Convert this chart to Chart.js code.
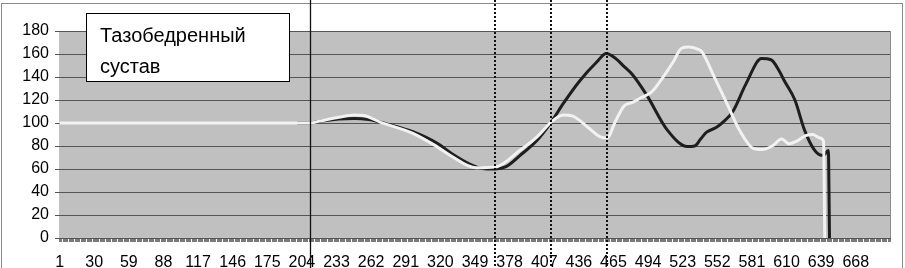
<!DOCTYPE html>
<html><head><meta charset="utf-8">
<script src="https://cdn.jsdelivr.net/npm/chart.js@4.4.1/dist/chart.umd.min.js"></script>
<style>html,body{margin:0;padding:0;background:#fff;}#wrap{width:905px;height:268px;position:relative;}</style>
</head><body><div id="wrap"><canvas id="c" width="905" height="268"></canvas></div>
<script>
// ---- data ----
const tickLabels = [1,30,59,88,117,146,175,204,233,262,291,320,349,378,407,436,465,494,523,552,581,610,639,668];
const categoryCount = 697;
const yMin = 0, yMax = 180, yStep = 20;

const darkCats   = [200,211,219,235,248,260,269,283,297,317,330,345,355,366,375,387,401,413,423,437,451,459,467,474,481,493,510,527,533,538,543,551,557,565,576,589,597,604,608,617,625,633,639,641,645,646];
const darkValues = [100,100,101.5,103.5,104,103,101,97,92.5,82.6,73,64,60.5,60,62,72,85,101,117,137,153,160.5,156,149,142,124,94,79.5,80,86,92,96,101,110,134,156,155,145,137,120,94,77,72,72,76,0];

const lightCats   = [1,200,211,219,235,248,256,269,297,317,328,350,366,387,401,413,423,431,443,454,460,466,474,481,488,497,506,515,522,528,536,539,549,560,571,582,590,598,606,612,618,626,632,638,641,642];
const lightValues = [100,100,100,101.7,105,107,106.5,101,91,79.4,72,61,61.7,76.5,88,101,107,106,96.8,88,87,100,115,118,122,127,139,153,165,166,164,162,141,117,93,78,77,80,86,82,84,89,90,87,84,0];

const solidMarkers = [211];
const dottedMarkers = [366, 413, 460];
const titleLines = ['Тазобедренный', 'сустав'];

// ---- chart ----
const FONT = '"Liberation Sans", Arial, sans-serif';
const toPts = (xs, ys) => xs.map((x, i) => ({x: x, y: ys[i]}));

const decor = {
  id: 'decor',
  beforeDraw(chart) {
    const ctx = chart.ctx, a = chart.chartArea;
    ctx.save();
    ctx.fillStyle = '#fff';
    ctx.fillRect(0, 0, chart.width, chart.height);
    ctx.strokeStyle = '#8a8a8a';
    ctx.lineWidth = 1;
    ctx.strokeRect(1.5, 3.5, chart.width - 4, chart.height + 10);
    ctx.fillStyle = '#c0c0c0';
    ctx.fillRect(a.left, a.top, a.right - a.left, a.bottom - a.top);
    ctx.restore();
  },
  beforeDatasetsDraw(chart) {
    const ctx = chart.ctx, a = chart.chartArea;
    ctx.save();
    ctx.strokeStyle = '#8c8c8c';
    ctx.lineWidth = 1;
    ctx.beginPath();
    ctx.moveTo(a.right - 0.5, a.top);
    ctx.lineTo(a.right - 0.5, a.bottom);
    ctx.stroke();
    ctx.restore();
  },
  afterDraw(chart) {
    const ctx = chart.ctx, xs = chart.scales.x;
    ctx.save();
    // title box
    ctx.fillStyle = '#fff';
    ctx.fillRect(86, 13, 203, 68);
    ctx.strokeStyle = '#000';
    ctx.lineWidth = 1;
    ctx.strokeRect(86.5, 13.5, 203, 68);
    ctx.fillStyle = '#000';
    ctx.font = '20px ' + FONT;
    ctx.textBaseline = 'alphabetic';
    ctx.fillText(titleLines[0], 100, 42);
    ctx.fillText(titleLines[1], 100, 73);
    // marker lines
    ctx.strokeStyle = '#111';
    ctx.lineWidth = 1.3;
    solidMarkers.forEach(v => {
      const px = Math.round(xs.getPixelForValue(v)) + 0.5;
      ctx.beginPath(); ctx.moveTo(px, 0); ctx.lineTo(px, chart.height); ctx.stroke();
    });
    ctx.lineWidth = 2;
    ctx.setLineDash([2, 2]);
    dottedMarkers.forEach(v => {
      const px = Math.round(xs.getPixelForValue(v));
      ctx.beginPath(); ctx.moveTo(px, 0); ctx.lineTo(px, chart.height); ctx.stroke();
    });
    ctx.restore();
  }
};

new Chart(document.getElementById('c'), {
  type: 'line',
  data: {
    datasets: [
      { data: toPts(lightCats, lightValues), borderColor: '#f2f2f2', borderWidth: 3, pointRadius: 0, cubicInterpolationMode: 'monotone' },
      { data: toPts(darkCats, darkValues), borderColor: '#1e1e1e', borderWidth: 3, pointRadius: 0, cubicInterpolationMode: 'monotone' }
    ]
  },
  options: {
    responsive: false,
    animation: false,
    devicePixelRatio: 1,
    layout: { padding: { top: 31, right: 14, left: 0, bottom: 0 } },
    plugins: { legend: { display: false }, tooltip: { enabled: false }, title: { display: false } },
    scales: {
      x: {
        type: 'linear',
        min: 0.5,
        max: categoryCount + 0.5,
        afterBuildTicks(scale) {
          const t = [];
          for (let i = 1; i <= categoryCount; i++) t.push({ value: i });
          scale.ticks = t;
        },
        afterFit(scale) { scale.height = 30; },
        ticks: {
          autoSkip: false, maxRotation: 0, minRotation: 0,
          padding: 11,
          color: '#000',
          font: { family: FONT, size: 16 },
          callback: (v) => tickLabels.includes(v) ? String(v) : ''
        },
        grid: { drawOnChartArea: false, drawTicks: true, tickLength: 4, color: '#7a7a7a', lineWidth: 1 },
        border: { display: false }
      },
      y: {
        min: yMin, max: yMax,
        afterFit(scale) { scale.width = 59; },
        ticks: { stepSize: yStep, padding: 6, color: '#000', font: { family: FONT, size: 16 } },
        grid: { color: '#555', lineWidth: 1, tickLength: 4 },
        border: { display: false }
      }
    }
  },
  plugins: [decor]
});
</script></body></html>
